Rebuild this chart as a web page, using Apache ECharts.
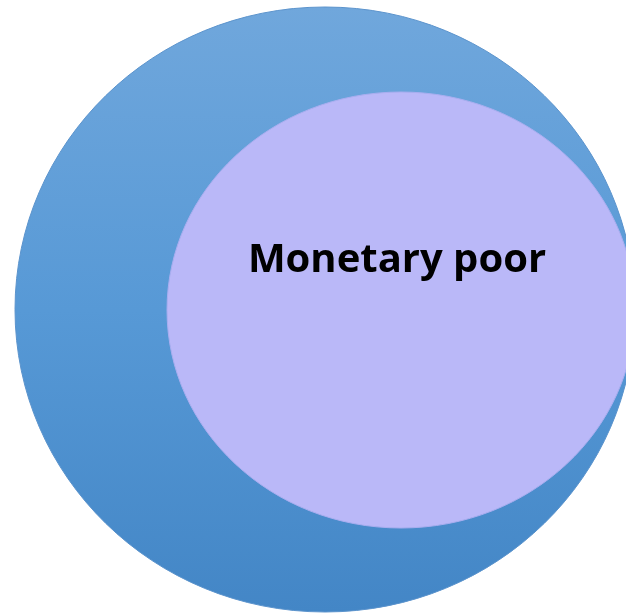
<!DOCTYPE html>
<html>
<head>
<meta charset="utf-8">
<title>Monetary poor</title>
<script src="https://cdn.jsdelivr.net/npm/echarts@6/dist/echarts.min.js"></script>
<style>
  html, body { margin: 0; padding: 0; background: #fff; }
  #chart { width: 626px; height: 613px; }
</style>
</head>
<body>
<div id="chart"></div>
<script>
// sets drawn as ellipses, outer first
var setNames = ["", "Monetary poor"];
var centerX = [325, 401];
var centerY = [309.5, 310];
var radiusX = [310, 234];
var radiusY = [302.5, 218];
var labelX = [0, 397];
var labelY = [0, 261];

var chartDom = document.getElementById("chart");
var myChart = echarts.init(chartDom);

var data = [];
for (var i = 0; i < setNames.length; i++) {
  data.push([centerX[i], centerY[i], radiusX[i], radiusY[i], labelX[i], labelY[i], i]);
}

var fills = [
  new echarts.graphic.LinearGradient(0, 0, 0, 1, [
    { offset: 0, color: "#70a7dc" },
    { offset: 0.5, color: "#5799d6" },
    { offset: 1, color: "#4386c6" }
  ]),
  "#bab8f8"
];
var strokes = ["#5b93cc", "#a9aef0"];

var option = {
  animation: false,
  grid: { left: 0, right: 0, top: 0, bottom: 0 },
  xAxis: { type: "value", min: 0, max: 626, show: false },
  yAxis: { type: "value", min: 0, max: 613, inverse: true, show: false },
  series: [
    {
      type: "custom",
      coordinateSystem: "cartesian2d",
      data: data,
      renderItem: function(params, api) {
        var idx = api.value(6);
        var c = api.coord([api.value(0), api.value(1)]);
        var s = api.size([api.value(2), api.value(3)]);
        var children = [
          {
            type: "ellipse",
            shape: { cx: c[0], cy: c[1], rx: s[0], ry: s[1] },
            style: { fill: fills[idx], stroke: strokes[idx], lineWidth: 1 }
          }
        ];
        if (setNames[idx]) {
          var p = api.coord([api.value(4), api.value(5)]);
          children.push({
            type: "text",
            x: p[0],
            y: p[1],
            style: {
              text: setNames[idx],
              fill: "#000",
              font: "bold 40px 'Open Sans', 'Noto Sans', sans-serif",
              align: "center",
              verticalAlign: "middle"
            }
          });
        }
        return { type: "group", children: children };
      }
    }
  ]
};

option && myChart.setOption(option);

window.onresize = function() {
  myChart.resize();
};
</script>
</body>
</html>
